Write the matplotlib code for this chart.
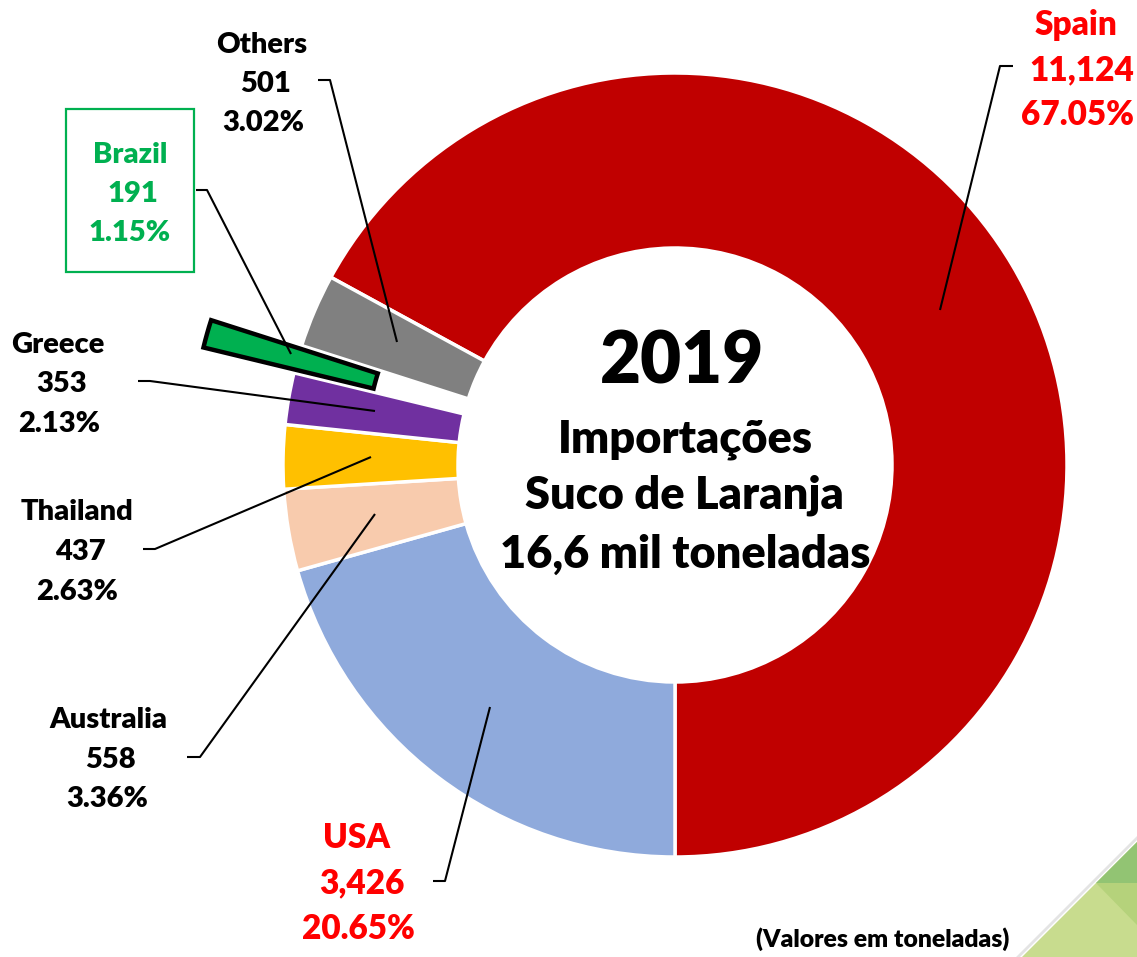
import matplotlib
matplotlib.use("Agg")
import matplotlib.pyplot as plt
from matplotlib.patches import Polygon, Rectangle

# ---------------- data ----------------
countries = ["Spain", "USA", "Australia", "Thailand", "Greece", "Brazil", "Others"]
values = [11124, 3426, 558, 437, 353, 191, 501]
colors = ["#C00000", "#8FAADC", "#F8CBAD", "#FFC000", "#7030A0", "#00B050", "#808080"]
label_colors = ["#FF0000", "#FF0000", "black", "black", "black", "#00B050", "black"]
center_lines = ["2019", "Importações", "Suco de Laranja", "16,6 mil toneladas"]
note = "(Valores em toneladas)"

# ---------------- layout (pixels) ----------------
W, H = 1137, 957
FONT = ["Lato", "DejaVu Sans"]
WEIGHT = 800
cx, cy = 675, 465
R_out, ring_w = 392, 175
explode_px = {"Brazil": 94}

# label: (x centers per line, baselines per line, fontsize)
label_layout = {
    "Spain":     ((1076, 1082, 1078), (35, 80, 125), 24),
    "USA":       ((357, 362, 358), (848, 893, 939), 24),
    "Australia": ((108, 110, 107), (728, 768, 807), 21),
    "Thailand":  ((77, 80, 77), (520, 560, 600), 21),
    "Greece":    ((58, 62, 59), (353, 392, 432), 21),
    "Brazil":    ((130, 133, 130), (163, 202, 241), 21),
    "Others":    ((262, 266, 263), (53, 92, 131), 21),
}
leaders = {
    "Spain":     [(1013, 66), (1000, 66), (940, 310)],
    "USA":       [(433, 881), (445, 881), (490, 707)],
    "Australia": [(187, 757), (200, 757), (375, 514)],
    "Thailand":  [(143, 549), (155, 549), (371, 457)],
    "Greece":    [(138, 381), (150, 381), (375, 411)],
    "Brazil":    [(196, 190), (207, 190), (291, 354)],
    "Others":    [(318, 80), (330, 80), (397, 342)],
}


def Y(p):
    return H - p


fig = plt.figure(figsize=(W / 100, H / 100), dpi=100)
ax = fig.add_axes([0, 0, 1, 1])

total = sum(values)
start = -90 + 360.0 * values[0] / total
wedges, _ = ax.pie(
    values,
    colors=colors,
    startangle=start,
    counterclock=False,
    radius=R_out,
    center=(cx, Y(cy)),
    explode=[explode_px.get(c, 0) for c in countries],
    wedgeprops=dict(width=ring_w, edgecolor="white", linewidth=2.5),
)
bi = countries.index("Brazil")
wedges[bi].set_edgecolor("black")
wedges[bi].set_linewidth(3.2)
wedges[bi].set_zorder(3)

ax.set_xlim(0, W)
ax.set_ylim(0, H)
ax.set_aspect("equal")
ax.axis("off")

# labels
for c, v, lc in zip(countries, values, label_colors):
    xs, bs, fs = label_layout[c]
    pct = 100.0 * v / total
    lines = [c, f"{v:,}", f"{pct:.2f}%"]
    for t, x, b in zip(lines, xs, bs):
        ax.text(x, Y(b), t, ha="center", va="baseline", fontsize=fs,
                fontweight=WEIGHT, color=lc, family=FONT, zorder=5)
    pts = leaders[c]
    ax.plot([p[0] for p in pts], [Y(p[1]) for p in pts], color="black",
            lw=1.5, zorder=6, solid_capstyle="butt")

# Brazil box
ax.add_patch(Rectangle((66, Y(272)), 128, 163, fill=False, edgecolor="#00B050",
                       lw=1.6, zorder=4))

# center text
center_layout = [(682, 383, 51), (685, 452, 32.5), (684, 508, 32.5), (685, 568, 32.5)]
for t, (x, b, fs) in zip(center_lines, center_layout):
    ax.text(x, Y(b), t, ha="center", va="baseline", fontsize=fs,
            fontweight=WEIGHT, color="black", family=FONT, zorder=5)

ax.text(883, Y(947), note, ha="center", va="baseline", fontsize=17.8,
        fontweight=WEIGHT, color="black", family=FONT, zorder=5)

# decorative corner
ax.add_patch(Polygon([(1022, Y(957)), (1137, Y(842)), (1137, Y(957))],
                     closed=True, facecolor="#C8DC8E", edgecolor="none", zorder=1))
ax.add_patch(Polygon([(1096, Y(883)), (1137, Y(883)), (1137, Y(925))],
                     closed=True, facecolor="#B5D27B", edgecolor="none", zorder=1))
ax.add_patch(Polygon([(1096, Y(883)), (1137, Y(842)), (1137, Y(883))],
                     closed=True, facecolor="#92C473", edgecolor="none", zorder=1))
ax.plot([1018, 1137], [Y(957), Y(838)], color="#E4E4E4", lw=2, zorder=0.9)

fig.savefig("out.png", dpi=100, facecolor="white")
